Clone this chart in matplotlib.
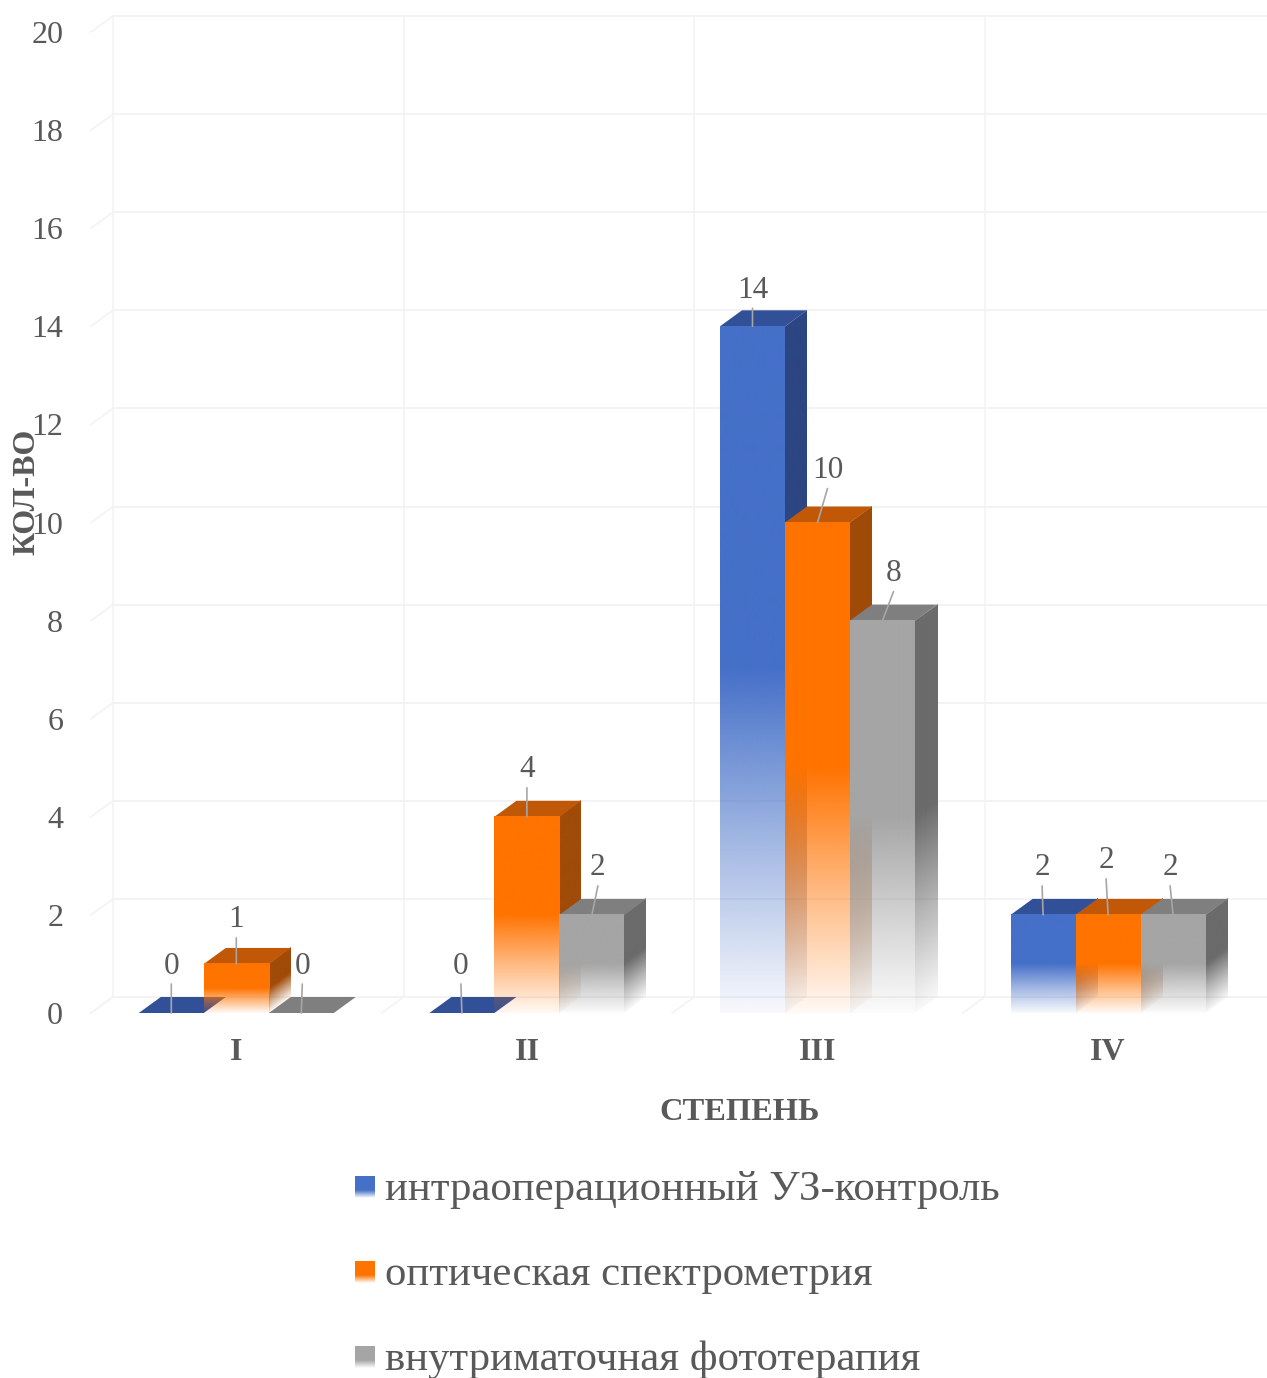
import numpy as np
import matplotlib
matplotlib.use("Agg")
import matplotlib.pyplot as plt
from matplotlib.colors import to_rgb

plt.rcParams["font.family"] = ["Liberation Serif", "DejaVu Serif"]

DEGREES = ["I", "II", "III", "IV"]
ultrasound = [0, 0, 14, 2]
spectrometry = [1, 4, 10, 2]
phototherapy = [0, 2, 8, 2]
SERIES_NAMES = ["интраоперационный УЗ-контроль", "оптическая спектрометрия", "внутриматочная фототерапия"]
Y_TICKS = list(range(0, 21, 2))

FRONT = ["#4570c8", "#ff7300", "#a5a5a5"]
TOP = ["#315098", "#c05808", "#7f7f7f"]
SIDE = ["#2c4682", "#a04b08", "#6b6b6b"]
TEXT = "#595959"
GRID = "#f3f3f3"

W, H = 1267, 1378
PX_X = 290.6     # pixels per category
PX_Y = 49.05     # pixels per unit
LEFT, BASE = 91, 1013
DX, DY = 22 / PX_X, 16 / PX_Y   # 3d depth of the box
BAR_W = 65 / PX_X

# label offset from the front top edge of each bar, pixels (right, up)
NUDGE = [
    [(0, 50), (0, 47), (1, 50)],
    [(-1, 50), (0, 50), (6, 50)],
    [(0, 39), (10, 55), (11, 50)],
    [(-1, 50), (-2, 57), (-3, 50)],
]


def fade_face(ax, x0, x1, height, shear, color, zorder):
    # bars are solid in the upper half and fade out towards the floor;
    # shear > 0 gives the parallelogram of a side face
    bx = np.linspace(x0, x1, int((x1 - x0) * PX_X * 3) + 2)
    by = np.linspace(0, height + shear, int((height + shear) * PX_Y * 3) + 2)
    xx, yy = np.meshgrid(bx, by)
    frac = (yy - shear * (xx - x0) / (x1 - x0)) / height
    alpha = np.interp(frac, [0, 0.25, 0.5, 1.0], [0.04, 0.5, 1.0, 1.0])
    alpha[(frac < 0) | (frac > 1)] = 0
    img = np.zeros(xx.shape + (4,))
    img[..., :3] = to_rgb(color)
    img[..., 3] = alpha
    ax.imshow(img, extent=(x0, x1, 0, height + shear), origin="lower", aspect="auto",
              interpolation="bilinear", zorder=zorder)


fig = plt.figure(figsize=(W / 100, H / 100), dpi=100)
ax = fig.add_axes([LEFT / W, (H - BASE) / H, (W - LEFT) / W, 20 * PX_Y / H])
x_end = (W - LEFT) / PX_X
for s in ax.spines.values():
    s.set_visible(False)

# back wall and floor grid
for v in Y_TICKS:
    ax.plot([DX, x_end], [v + DY, v + DY], color=GRID, lw=1.4, zorder=1, clip_on=False)
    ax.plot([0, DX], [v, v + DY], color=GRID, lw=1.2, zorder=1, clip_on=False)
for k in range(len(DEGREES)):
    ax.plot([k + DX, k + DX], [DY, 20 + DY], color=GRID, lw=1.2, zorder=1, clip_on=False)
    ax.plot([k, k + DX], [0, DY], color=GRID, lw=1.2, zorder=1, clip_on=False)

ax.set_xticks(np.arange(len(DEGREES)) + 0.5)
ax.set_xticklabels(DEGREES, fontsize=23, fontweight="bold", color=TEXT)
ax.set_yticks(Y_TICKS)
ax.set_yticklabels(Y_TICKS, fontsize=23, color=TEXT)
ax.tick_params(axis="x", length=0, pad=18)
ax.tick_params(axis="y", length=0, pad=20)

z = 3
for g in range(len(DEGREES)):
    for s, vals in enumerate([ultrasound, spectrometry, phototherapy]):
        v = vals[g]
        cx = g + 0.5 + (s - 1) * BAR_W
        x0, x1 = cx - BAR_W / 2, cx + BAR_W / 2
        if v > 0:
            fade_face(ax, x1, x1 + DX, v, DY, SIDE[s], z)
        ax.fill([x0, x1, x1 + DX, x0 + DX], [v, v, v + DY, v + DY], color=TOP[s], lw=0, zorder=z, clip_on=False)
        if v > 0:
            fade_face(ax, x0, x1, v, 0, FRONT[s], z + 1)
        z += 2

# value labels with leader lines
for g in range(len(DEGREES)):
    for s, vals in enumerate([ultrasound, spectrometry, phototherapy]):
        v = vals[g]
        cx = g + 0.5 + (s - 1) * BAR_W
        ox, oy = NUDGE[g][s]
        ax.annotate("", xy=(cx, v), xytext=(ox, oy - 21), textcoords="offset pixels",
                    arrowprops=dict(arrowstyle="-", color="#a6a6a6", lw=1.2, shrinkA=0, shrinkB=0),
                    zorder=40, annotation_clip=False)
        ax.annotate(str(v), xy=(cx, v), xytext=(ox, oy - 3), textcoords="offset pixels",
                    ha="center", va="center", fontsize=22.5, color=TEXT, zorder=41,
                    annotation_clip=False)

ax.set_xlim(0, x_end)
ax.set_ylim(0, 20)

fig.text(27 / W, 1 - 492 / H, "КОЛ-ВО", rotation=90, ha="center", va="center",
         fontsize=23, fontweight="bold", color=TEXT, zorder=50)
fig.text(740 / W, 1 - 1112 / H, "СТЕПЕНЬ", ha="center", va="center",
         fontsize=23.4, fontweight="bold", color=TEXT)

# legend drawn on a pixel-scaled overlay so the swatches can fade too
lg = fig.add_axes([0, 0, 1, 1], facecolor="none")
for i, (name, yc) in enumerate(zip(SERIES_NAMES, [1187, 1272, 1357])):
    swatch = np.zeros((24, 1, 4))
    swatch[..., :3] = to_rgb(FRONT[i])
    swatch[..., 3] = np.interp(np.linspace(0, 1, 24), [0, 0.35, 1], [0.05, 1, 1])[:, None]
    lg.imshow(swatch, extent=(355, 375, yc + 11, yc - 11), origin="lower", aspect="auto",
              interpolation="bilinear")
    lg.text(385, yc + 3, name, ha="left", va="center", fontsize=30.75, color=TEXT)
lg.set_xlim(0, W)
lg.set_ylim(H, 0)
lg.axis("off")

fig.savefig("out.png", dpi=100, facecolor="white")
plt.close(fig)
